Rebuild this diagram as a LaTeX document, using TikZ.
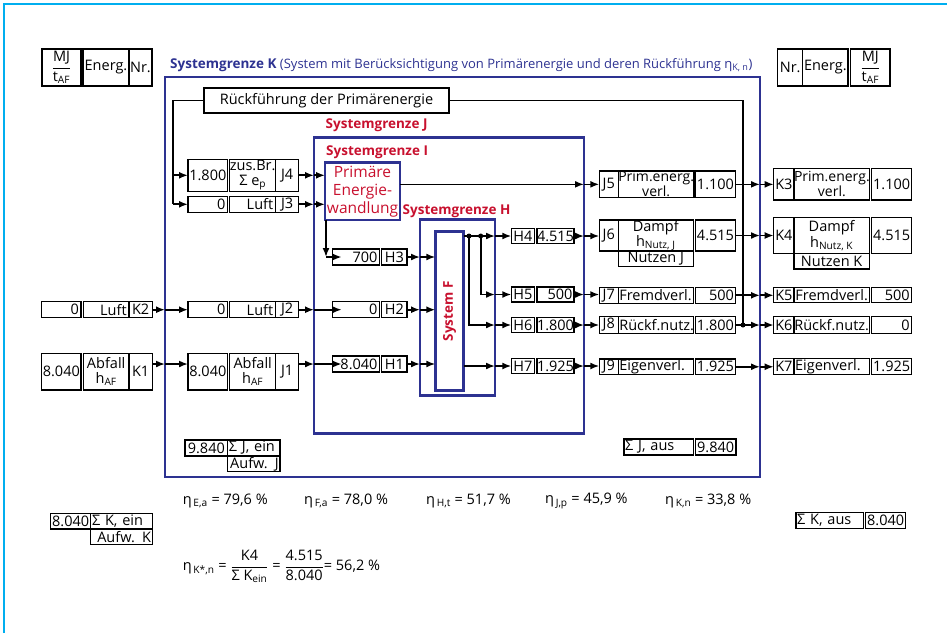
\documentclass[tikz,border=0pt]{standalone}
\usepackage{amsmath}
\usepackage{fontspec}
\setmainfont{Open Sans}
\usetikzlibrary{arrows.meta, calc}

\definecolor{sgblue}{RGB}{45,50,145}
\definecolor{sgred}{RGB}{200,16,46}
\definecolor{rahmen}{RGB}{0,174,239}
\newcommand\dgfont{\fontsize{14.5}{15}\selectfont}
\newcommand\dgtight{\fontsize{14}{10.5}\selectfont}
\newcommand\dgbold{\fontsize{13.5}{14}\selectfont\bfseries}

\begin{document}
\begin{tikzpicture}[x=1pt, y=-1pt, >={Latex[length=9pt,width=7pt]},
    bx/.style={draw, line width=1.2pt, inner sep=0pt, outer sep=0pt, anchor=north west, align=center, font=\dgfont},
    sz/.style 2 args={minimum width=#1pt, minimum height=#2pt},
    ra/.style={text width=#1pt, align=right},
    la/.style={text width=#1pt, align=left},
    grenze/.style={draw=sgblue, line width=2.6pt, inner sep=0pt, outer sep=0pt, anchor=north west},
    glabel/.style={anchor=west, inner sep=0pt, text=sgred, font=\dgbold},
    ln/.style={line width=1.7pt},
    arr/.style={line width=1.7pt, ->},
    eta/.style={anchor=west, inner sep=0pt, font=\dgfont}]
    \useasboundingbox (0,0) rectangle (947,633);
    \draw[rahmen, line width=2.5pt] (4,633) -- (4,4) -- (947,4);

    % Kopfzeilen
    \node[bx, sz={39}{37}] (hl1) at (42,49) {$\dfrac{\text{MJ}}{\text{t\textsubscript{AF}}}$};
    \node[bx, sz={46}{37}] (hl2) at (83,49) {Energ.};
    \node[bx, sz={23}{37}] (hl3) at (129,49) {Nr.};
    \node[bx, sz={25}{37}] (hr1) at (777.7,49) {Nr.};
    \node[bx, sz={45.3}{37}] (hr2) at (802.7,49) {Energ.};
    \node[bx, sz={39.3}{37}] (hr3) at (850.7,49) {$\dfrac{\text{MJ}}{\text{t\textsubscript{AF}}}$};

    \node[anchor=west, inner sep=0pt, text=sgblue, font=\dgbold] (titel) at (170,65)
        {Systemgrenze K {\mdseries\fontsize{13}{13}\selectfont (System mit Berücksichtigung von Primärenergie und deren Rückführung η\textsubscript{K, n})}};

    % Systemgrenzen
    \node[grenze, sz={595}{400}] (K) at (165,77) {};
    \node[grenze, sz={270}{296}] (J) at (314,137.3) {};
    \node[grenze, sz={75}{57.3}, align=center, text=sgred, font={\fontsize{15.5}{18}\selectfont}] (pe) at (325,162.7) {Primäre\\Energie-\\wandlung};
    \node[grenze, sz={75}{176.4}] (H) at (420,219.3) {};
    \node[grenze, sz={28.4}{159}] (F) at (435.3,231.7) {};
    \node[rotate=90, inner sep=0pt, text=sgred, font=\dgbold] (Ft) at (F.center) {System F};
    \node[glabel] (lJ) at (325.5,125.7) {Systemgrenze J};
    \node[glabel] (lI) at (326,152.7) {Systemgrenze I};
    \node[glabel] (lH) at (402.5,211.7) {Systemgrenze H};

    \node[bx, sz={245}{25}] (rueck) at (204,88) {Rückführung der Primärenergie};

    % Eingaenge K
    \node[bx, sz={39.3}{16}, ra=35] (k2v) at (41.7,301.7) {0};
    \node[bx, sz={45.7}{16}, ra=41] (k2n) at (83.3,301.7) {Luft};
    \node[bx, sz={23.3}{16}] (k2) at (129,301.7) {K2};
    \node[bx, sz={39.3}{36.7}] (k1v) at (41.7,353.3) {8.040};
    \node[bx, sz={45.7}{36.7}] (k1n) at (83.3,353.3) {Abfall\\h\textsubscript{AF}};
    \node[bx, sz={23.3}{36.7}] (k1) at (129,353.3) {K1};

    % Eingaenge J
    \node[bx, sz={39.7}{32}] (j4v) at (188,159.3) {1.800};
    \node[bx, sz={46}{32}] (j4n) at (229.7,159.3) {zus.Br.\\Σ e\textsubscript{p}};
    \node[bx, sz={23}{32}] (j4) at (275.7,159.3) {J4};
    \node[bx, sz={39.7}{16}, ra=35] (j3v) at (188,196.3) {0};
    \node[bx, sz={46}{16}, ra=41] (j3n) at (229.7,196.3) {Luft};
    \node[bx, sz={23}{16}] (j3) at (275.7,196.3) {J3};
    \node[bx, sz={39.7}{16}, ra=35] (j2v) at (188,301.7) {0};
    \node[bx, sz={46}{16}, ra=41] (j2n) at (229.7,301.7) {Luft};
    \node[bx, sz={23}{16}] (j2) at (275.7,301.7) {J2};
    \node[bx, sz={39.7}{36.7}] (j1v) at (188,353.3) {8.040};
    \node[bx, sz={46}{36.7}] (j1n) at (229.7,353.3) {Abfall\\h\textsubscript{AF}};
    \node[bx, sz={23}{36.7}] (j1) at (275.7,353.3) {J1};

    % Eingaenge H
    \node[bx, sz={46.6}{16}, ra=43] (h3v) at (332.7,249) {700};
    \node[bx, sz={25.3}{16}] (h3) at (381.7,249) {H3};
    \node[bx, sz={46.6}{16}, ra=43] (h2v) at (332.7,301.7) {0};
    \node[bx, sz={25.3}{16}] (h2) at (381.7,301.7) {H2};
    \node[bx, sz={46.6}{16}, ra=43] (h1v) at (332.7,356) {8.040};
    \node[bx, sz={25.3}{16}] (h1) at (381.7,356) {H1};

    % Ausgaenge H
    \node[bx, sz={23}{15}] (h4) at (511.3,228.5) {H4};
    \node[bx, sz={37}{15}] (h4v) at (537,228.5) {4.515};
    \node[bx, sz={23}{15}] (h5) at (511.3,287) {H5};
    \node[bx, sz={37}{15}, ra=34] (h5v) at (537,287) {500};
    \node[bx, sz={23}{15}] (h6) at (511.3,317.5) {H6};
    \node[bx, sz={37}{15}] (h6v) at (537,317.5) {1.800};
    \node[bx, sz={23}{15}] (h7) at (511.3,358.5) {H7};
    \node[bx, sz={37}{15}] (h7v) at (537,358.5) {1.925};

    % Ausgaenge J
    \node[bx, sz={19}{26.7}] (j5) at (599.3,171) {J5};
    \node[bx, sz={75}{26.7}, font=\dgtight] (j5n) at (618.3,171) {Prim.energ.\\verl.};
    \node[bx, sz={40.4}{26.7}] (j5v) at (695.3,171) {1.100};
    \node[bx, sz={19}{31}] (j6) at (599.3,220) {J6};
    \node[bx, sz={75}{31}, font={\fontsize{14.5}{13}\selectfont}] (j6n) at (618.3,220) {Dampf\\h\textsubscript{Nutz, J}};
    \node[bx, sz={75}{15.7}] (j6u) at (618.3,251) {Nutzen J};
    \node[bx, sz={40.4}{31}] (j6v) at (695.3,220) {4.515};
    \node[bx, sz={19}{16}] (j7) at (599.3,287.3) {J7};
    \node[bx, sz={75}{16}, la=73] (j7n) at (618.3,287.3) {Fremdverl.};
    \node[bx, sz={40.4}{16}, ra=37] (j7v) at (695.3,287.3) {500};
    \node[bx, sz={19}{16.6}] (j8) at (599.3,316.7) {J8};
    \node[bx, sz={75}{16.6}, la=73] (j8n) at (618.3,316.7) {Rückf.nutz.};
    \node[bx, sz={40.4}{16.6}] (j8v) at (695.3,316.7) {1.800};
    \node[bx, sz={19}{15.5}] (j9) at (599.3,359) {J9};
    \node[bx, sz={75}{15.5}, la=73] (j9n) at (618.3,359) {Eigenverl.};
    \node[bx, sz={40.4}{15.5}] (j9v) at (695.3,359) {1.925};

    % Ausgaenge K
    \node[bx, sz={20.3}{31.7}] (k3) at (773.7,168.3) {K3};
    \node[bx, sz={75.3}{31.7}, font=\dgtight] (k3n) at (794,168.3) {Prim.energ.\\verl.};
    \node[bx, sz={40}{31.7}] (k3v) at (871.7,168.3) {1.100};
    \node[bx, sz={20.3}{35.6}] (k4) at (773.7,217.7) {K4};
    \node[bx, sz={75.3}{35.6}, font={\fontsize{14.5}{14}\selectfont}] (k4n) at (794,217.7) {Dampf\\h\textsubscript{Nutz, K}};
    \node[bx, sz={75.3}{15.7}] (k4u) at (794,253.3) {Nutzen K};
    \node[bx, sz={40}{35.6}] (k4v) at (871.7,217.7) {4.515};
    \node[bx, sz={20.3}{15.4}] (k5) at (773.7,287.3) {K5};
    \node[bx, sz={75.3}{15.4}] (k5n) at (794,287.3) {Fremdverl.};
    \node[bx, sz={40}{15.4}, ra=36] (k5v) at (871.7,287.3) {500};
    \node[bx, sz={20.3}{16.6}] (k6) at (773.7,316.7) {K6};
    \node[bx, sz={75.3}{16.6}] (k6n) at (794,316.7) {Rückf.nutz.};
    \node[bx, sz={40}{16.6}, ra=36] (k6v) at (871.7,316.7) {0};
    \node[bx, sz={20.3}{16}] (k7) at (773.7,358.3) {K7};
    \node[bx, sz={75.3}{16}, la=73] (k7n) at (794,358.3) {Eigenverl.};
    \node[bx, sz={40}{16}] (k7v) at (871.7,358.3) {1.925};

    % Summen
    \node[bx, sz={42.7}{16}] (sjv) at (185,440) {9.840};
    \node[bx, sz={52.3}{16}, la=50] (sjn) at (227.7,440) {Σ J, ein};
    \node[bx, sz={52.3}{15.7}, ra=50] (sju) at (227.7,456) {Aufw. J};
    \node[bx, sz={40}{15.7}] (skv) at (50.7,513.3) {8.040};
    \node[bx, sz={61.6}{15.7}, la=59] (skn) at (90.7,513.3) {Σ K, ein};
    \node[bx, sz={61.6}{15.3}, ra=59] (sku) at (90.7,529) {Aufw. K};
    \node[bx, sz={69.3}{16}, la=67] (sja) at (624,439) {Σ J, aus};
    \node[bx, sz={40.7}{16}] (sjav) at (695.3,439) {9.840};
    \node[bx, sz={67.3}{16}, la=65] (ska) at (796,512.3) {Σ K, aus};
    \node[bx, sz={40}{16}] (skav) at (865.7,512.3) {8.040};

    % Wirkungsgrade
    \node[eta] (e1) at (182.7,501) {η\textsubscript{\,E,a} = 79,6 \%};
    \node[eta] (e2) at (304,501) {η\textsubscript{\,F,a} = 78,0 \%};
    \node[eta] (e3) at (426,501) {η\textsubscript{\,H,t} = 51,7 \%};
    \node[eta] (e4) at (545,501) {η\textsubscript{\,J,p} = 45,9 \%};
    \node[eta] (e5) at (665,501) {η\textsubscript{\,K,n} = 33,8 \%};
    \node[eta] (e6) at (182.7,566.7) {η\textsubscript{\,K*,n} = $\dfrac{\text{K4}}{\text{Σ K\textsubscript{ein}}}$ = $\dfrac{\text{4.515}}{\text{8.040}}$= 56,2 \%};

    % Rueckfuehrung
    \coordinate (rk) at (743,0 |- j8v.east);
    \coordinate (rl) at (173,0 |- j3v.west);
    \draw[ln] (rueck.east) -| (rk);
    \draw[ln] (rueck.west) -| (rl);
    \draw[arr] (rl |- j4v.west) -- (j4v.west);
    \draw[arr] (rl) -- (j3v.west);

    % Fluesse K -> J -> I/H
    \foreach \n in {j4,j3} {
        \draw[arr] (\n.east) -- (\n.east -| J.west);
        \draw[arr] (\n.east -| J.west) -- (\n.east -| pe.west);
    }
    \draw[arr] (pe.east |- j5.west) -- (j5.west -| J.east);
    \draw[arr] (j5.west -| J.east) -- (j5.west);
    \coordinate (pc) at (326,0 |- h3v.west);
    \draw[arr] (326,0 |- pe.south) -- (pc);
    \draw[arr] (pc) -- ([xshift=9pt]h3v.west);

    \draw[arr] (k2.east) -- (k2.east -| K.west);
    \draw[arr] (k2.east -| K.west) -- (j2v.west);
    \draw[arr] (j2.east) -- (j2.east -| J.west);
    \draw[arr] (j2.east -| J.west) -- ([xshift=9pt]h2v.west);
    \draw[arr] (k1.east |- h1v.west) -- (K.west |- h1v.west);
    \draw[arr] (K.west |- h1v.west) -- (j1v.west |- h1v.west);
    \draw[arr] (j1.east |- h1v.west) -- (J.west |- h1v.west);
    \draw[arr] (J.west |- h1v.west) -- ([xshift=9pt]h1v.west);

    \foreach \n in {h3,h2,h1} {
        \draw[arr] (\n.east) -- (\n.east -| H.west);
        \draw[arr] (\n.east -| H.west) -- (\n.east -| F.west);
    }

    % System F -> H
    \coordinate (d1) at (469,0 |- h4.west);
    \coordinate (d2) at (480.7,0 |- h4.west);
    \draw[ln] (F.east |- h4.west) -- (d2);
    \draw[arr] (d2) -- (h4.west -| H.east);
    \draw[arr] (d2) |- (h5.west -| H.east);
    \draw[arr] (d1) |- (h6.west -| H.east);
    \draw[arr] (F.east |- h7.west) -- (h7.west -| H.east);
    \foreach \n in {h4,h5,h6,h7}
        \draw[arr] (\n.west -| H.east) -- (\n.west);
    \fill (d1) circle (2.5);
    \fill (d2) circle (2.5);

    % H -> J -> K
    \foreach \a/\b in {h4v/j6, h5v/j7, h6v/j8, h7v/j9} {
        \draw[arr] (\a.east) -- (\a.east -| J.east);
        \draw[arr] (\a.east -| J.east) -- (\b.west |- \a.east);
    }
    \foreach \a/\b in {j5v/k3, j6v/k4, j7v/k5, j8v/k6, j9v/k7} {
        \draw[arr] (\a.east) -- (\a.east -| K.east);
        \draw[arr] (\a.east -| K.east) -- (\b.west |- \a.east);
    }
    \fill (rk) circle (2.5);
\end{tikzpicture}
\end{document}
